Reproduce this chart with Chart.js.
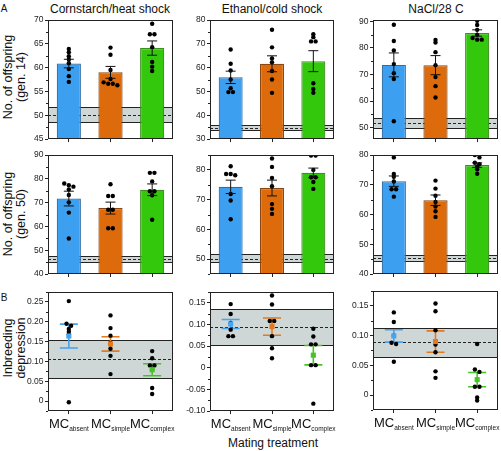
<!DOCTYPE html>
<html>
<head>
<meta charset="utf-8">
<script src="https://cdn.jsdelivr.net/npm/chart.js@4"></script>
<style>
  body { margin: 0; width: 501px; height: 451px; position: relative; overflow: hidden; background: #fff;
         font-family: "Liberation Sans", Arial, sans-serif; color: #111; }
  canvas { position: absolute; }
  .c { position: absolute; transform: translate(-50%, -50%); white-space: nowrap; }
  .yt { position: absolute; transform: translate(-50%, -50%) rotate(-90deg); white-space: nowrap;
        text-align: center; font-size: 12.5px; line-height: 12.5px; }
</style>
</head>
<body>
<div class="c" style="left:4px;top:7.5px;font-size:10px">A</div>
<div class="c" style="left:4px;top:297px;font-size:10px">B</div>
<div class="c" style="left:110px;top:8.5px;font-size:12px">Cornstarch/heat shock</div>
<div class="c" style="left:272px;top:8.5px;font-size:12px">Ethanol/cold shock</div>
<div class="c" style="left:436px;top:8.5px;font-size:12px">NaCl/28 C</div>
<div class="yt" style="left:14px;top:77px">No. of offspring<br>(gen. 14)</div>
<div class="yt" style="left:14px;top:214px">No. of offspring<br>(gen. 50)</div>
<div class="yt" style="left:14px;top:348px">Inbreeding<br>depression</div>
<div class="c" style="left:273px;top:443px;font-size:12px">Mating treatment</div>
<script>
// Mating treatments (x categories)
const groups = ['absent', 'simple', 'complex'];
const fills = ['#3c9ff0', '#dd6b0c', '#34c80c'];
const edges = ['#2e6ea6', '#8c4610', '#3e8e22'];
const errColors = ['#46a3ee', '#e07b22', '#46c427'];

// Cornstarch/heat shock, gen. 14
const h14Absent = [63.9, 63.2, 62.4, 61.7, 60.9, 59.7, 58.2, 57.0];
const h14Simple = [64.2, 62.7, 59.5, 57.6, 56.9, 56.6, 56.6, 56.3];
const h14Complex = [69.2, 67.0, 67.0, 64.3, 61.2, 60.2, 59.3];
const h14Mean = [60.85, 59.0, 64.1];
const h14Se = [0.9, 1.25, 1.5];
const h14Ctrl = [48.5, 50.1, 51.7];

// Ethanol/cold shock, gen. 14
const e14Absent = [67.6, 61.6, 58.8, 55.0, 51.3, 49.7, 49.7];
const e14Simple = [75.9, 68.5, 63.8, 62.2, 58.6, 55.0, 49.4];
const e14Complex = [74.0, 72.8, 71.0, 71.0, 53.4, 51.0, 49.4];
const e14Mean = [55.9, 61.6, 62.7];
const e14Se = [2.6, 3.35, 4.4];
const e14Ctrl = [33.6, 34.8, 36.0];

// NaCl/28 C, gen. 14
const n14Absent = [88.7, 82.6, 79.0, 73.9, 70.5, 68.3, 52.4];
const n14Simple = [83.0, 82.0, 78.4, 73.5, 69.0, 65.6, 61.3];
const n14Complex = [90.2, 88.6, 86.8, 84.9, 83.7, 83.1, 83.1];
const n14Mean = [73.6, 73.5, 85.6];
const n14Se = [4.5, 3.6, 1.2];
const n14Ctrl = [50.0, 51.8, 53.5];

// Cornstarch/heat shock, gen. 50
const h50Absent = [78.0, 77.3, 76.7, 75.5, 73.2, 70.1, 65.8, 54.9];
const h50Simple = [77.7, 72.8, 72.8, 67.0, 67.0, 59.2, 59.2];
const h50Complex = [82.5, 82.5, 78.9, 74.8, 74.8, 73.1, 62.8];
const h50Mean = [71.7, 67.7, 75.4];
const h50Se = [3.1, 2.5, 2.45];
const h50Ctrl = [45.2, 46.4, 47.5];

// Ethanol/cold shock, gen. 50
const e50Absent = [81.2, 78.6, 78.6, 78.2, 71.9, 69.7, 63.4];
const e50Simple = [83.8, 81.0, 77.3, 74.5, 68.5, 66.9, 65.2];
const e50Complex = [84.8, 84.8, 80.0, 77.5, 77.5, 75.9, 73.6];
const e50Mean = [74.3, 73.9, 79.0];
const e50Se = [2.25, 2.65, 1.6];
const e50Ctrl = [48.9, 50.0, 51.6];

// NaCl/28 C, gen. 50
const n50Absent = [79.2, 73.6, 72.7, 71.1, 68.5, 68.5, 66.0];
const n50Simple = [71.4, 68.7, 66.3, 64.2, 62.7, 61.1, 59.2];
const n50Complex = [80.0, 79.2, 77.4, 76.9, 76.1, 75.2, 73.7];
const n50Mean = [71.2, 64.8, 76.6];
const n50Se = [1.75, 1.75, 0.75];
const n50Ctrl = [44.4, 45.4, 46.3];

// Inbreeding depression
const hIdAbsent = [0.252, 0.195, 0.190, 0.182, 0.175, 0.168, -0.003];
const hIdSimple = [0.216, 0.184, 0.165, 0.146, 0.132, 0.114, 0.068];
const hIdComplex = [0.126, 0.108, 0.090, 0.090, 0.080, 0.033, 0.018];
const hIdMean = [0.164, 0.144, 0.079];
const hIdSe = [0.030, 0.018, 0.015];
const hIdCtrl = [0.057, 0.105, 0.153];

const eIdAbsent = [0.147, 0.124, 0.103, 0.088, 0.073, 0.073];
const eIdSimple = [0.167, 0.146, 0.108, 0.108, 0.073, 0.045, 0.022];
const eIdComplex = [0.090, 0.072, 0.054, 0.054, 0.006, 0.006, -0.083];
const eIdMean = [0.101, 0.095, 0.029];
const eIdSe = [0.0105, 0.020, 0.0225];
const eIdCtrl = [0.053, 0.094, 0.135];

const nIdAbsent = [0.139, 0.123, 0.100, 0.088, 0.086, 0.056];
const nIdSimple = [0.154, 0.141, 0.109, 0.085, 0.072, 0.040, 0.029];
const nIdComplex = [0.086, 0.043, 0.039, 0.014, 0.014, -0.004, -0.009];
const nIdMean = [0.0995, 0.090, 0.026];
const nIdSe = [0.0105, 0.018, 0.012];
const nIdCtrl = [0.064, 0.089, 0.112];

// Panel layout: plot rectangle [x0, y0, x1, y1], y axis [min, max, major, minor]
const panels = [
  {rect: [48, 20, 173, 139], y: [45, 70, 5, 2.5], dots: [h14Absent, h14Simple, h14Complex], mean: h14Mean, se: h14Se, ctrl: h14Ctrl},
  {rect: [210, 20, 334, 139], y: [30, 80, 10, 5], dots: [e14Absent, e14Simple, e14Complex], mean: e14Mean, se: e14Se, ctrl: e14Ctrl},
  {rect: [373, 20, 498, 139], y: [45.7, 90.5, 10, 5], dots: [n14Absent, n14Simple, n14Complex], mean: n14Mean, se: n14Se, ctrl: n14Ctrl},
  {rect: [48, 155, 173, 274], y: [40, 90, 10, 5], dots: [h50Absent, h50Simple, h50Complex], mean: h50Mean, se: h50Se, ctrl: h50Ctrl},
  {rect: [210, 155, 334, 274], y: [45, 85, 10, 5], dots: [e50Absent, e50Simple, e50Complex], mean: e50Mean, se: e50Se, ctrl: e50Ctrl},
  {rect: [373, 155, 498, 274], y: [40, 80, 10, 5], dots: [n50Absent, n50Simple, n50Complex], mean: n50Mean, se: n50Se, ctrl: n50Ctrl},
  {rect: [48, 292, 173, 411], y: [-0.025, 0.275, 0.05, 0.025], dots: [hIdAbsent, hIdSimple, hIdComplex], mean: hIdMean, se: hIdSe, ctrl: hIdCtrl, id: true},
  {rect: [210, 292, 334, 411], y: [-0.1, 0.175, 0.05, 0.025], dots: [eIdAbsent, eIdSimple, eIdComplex], mean: eIdMean, se: eIdSe, ctrl: eIdCtrl, id: true},
  {rect: [373, 291, 498, 410], y: [-0.025, 0.175, 0.05, 0.025], dots: [nIdAbsent, nIdSimple, nIdComplex], mean: nIdMean, se: nIdSe, ctrl: nIdCtrl, id: true},
];

const FONT = '"Liberation Sans", Arial, sans-serif';

// place tied dots side by side around the category centre
function swarm(vals, idx, thr) {
  const sorted = [...vals].sort((a, b) => b - a);
  const out = [];
  let cluster = [];
  const flush = () => {
    cluster.forEach((v, k) => out.push({x: idx + (k - (cluster.length - 1) / 2) * 0.11, y: v}));
    cluster = [];
  };
  sorted.forEach(v => {
    if (cluster.length && Math.abs(cluster[cluster.length - 1] - v) > thr) flush();
    cluster.push(v);
  });
  flush();
  return out;
}

function stepValues(min, max, step) {
  const vals = [];
  for (let k = Math.ceil(min / step - 1e-9); k * step <= max + 1e-9; k++) {
    vals.push(Math.round(k * step * 10000) / 10000);
  }
  return vals;
}

function fmt(v, dec) {
  if (Math.abs(v) < 1e-9) return '0';
  return dec ? v.toFixed(2) : String(Math.round(v));
}

function drawErrors(chart, p) {
  const {ctx, scales: {x, y}} = chart;
  ctx.save();
  p.mean.forEach((m, i) => {
    const cx = x.getPixelForValue(i);
    const top = y.getPixelForValue(m + p.se[i]);
    const bot = y.getPixelForValue(m - p.se[i]);
    const cap = p.id ? 9 : 5;
    ctx.strokeStyle = p.id ? errColors[i] : '#111';
    ctx.lineWidth = p.id ? 1.6 : 1;
    ctx.beginPath();
    ctx.moveTo(cx, top); ctx.lineTo(cx, bot);
    ctx.moveTo(cx - cap, top); ctx.lineTo(cx + cap, top);
    ctx.moveTo(cx - cap, bot); ctx.lineTo(cx + cap, bot);
    ctx.stroke();
  });
  ctx.restore();
}

function panelPlugin(p) {
  return {
    id: 'panel',
    beforeDatasetsDraw(chart) {
      const {ctx, chartArea: a, scales: {y}} = chart;
      const [lo, mid, hi] = p.ctrl;
      const yl = Math.round(y.getPixelForValue(lo)) + 0.5;
      const ym = Math.round(y.getPixelForValue(mid)) + 0.5;
      const yh = Math.round(y.getPixelForValue(hi)) + 0.5;
      ctx.save();
      ctx.beginPath();
      ctx.rect(a.left, a.top, a.width, a.height);
      ctx.clip();
      ctx.fillStyle = '#cfd6d6';
      ctx.fillRect(a.left, yh, a.width, yl - yh);
      ctx.strokeStyle = '#222';
      ctx.lineWidth = 1;
      ctx.beginPath();
      ctx.moveTo(a.left, yl); ctx.lineTo(a.right, yl);
      ctx.moveTo(a.left, yh); ctx.lineTo(a.right, yh);
      ctx.stroke();
      ctx.setLineDash([3, 2]);
      ctx.beginPath();
      ctx.moveTo(a.left, ym); ctx.lineTo(a.right, ym);
      ctx.stroke();
      ctx.restore();
      if (p.id) drawErrors(chart, p);
    },
    afterDatasetsDraw(chart) {
      if (!p.id) drawErrors(chart, p);
    },
    afterDraw(chart) {
      const {ctx, chartArea: a, scales: {x, y}} = chart;
      const [ymin, ymax, major, minor] = p.y;
      ctx.save();
      ctx.strokeStyle = '#222';
      ctx.lineWidth = 1;
      ctx.strokeRect(a.left + 0.5, a.top + 0.5, a.width - 1, a.height - 1);
      // minor ticks
      ctx.beginPath();
      stepValues(ymin, ymax, minor).forEach(v => {
        if (Math.abs(v / major - Math.round(v / major)) < 1e-6) return;
        const py = Math.round(y.getPixelForValue(v)) + 0.5;
        ctx.moveTo(a.left - 2, py); ctx.lineTo(a.left, py);
      });
      ctx.stroke();
      // MC labels with subscripts
      if (p.id) {
        ctx.fillStyle = '#111';
        ctx.textBaseline = 'alphabetic';
        groups.forEach((g, i) => {
          const cx = x.getPixelForValue(i);
          ctx.font = '13px ' + FONT;
          const w1 = ctx.measureText('MC').width;
          ctx.font = '6.5px ' + FONT;
          const w2 = ctx.measureText(g).width;
          const sx = cx - (w1 + w2) / 2;
          ctx.font = '13px ' + FONT;
          ctx.fillText('MC', sx, a.bottom + 17);
          ctx.font = '6.5px ' + FONT;
          ctx.fillText(g, sx + w1, a.bottom + 19.5);
        });
      }
      ctx.restore();
    }
  };
}

function makeChart(p) {
  const [x0, y0, x1, y1] = p.rect;
  const w = x1 - x0, h = y1 - y0;
  const padB = p.id ? 28 : 0;
  const canvas = document.createElement('canvas');
  canvas.width = w + 36;
  canvas.height = h + 18 + padB;
  canvas.style.left = (x0 - 32) + 'px';
  canvas.style.top = (y0 - 8) + 'px';
  canvas.style.width = canvas.width + 'px';
  canvas.style.height = canvas.height + 'px';
  document.body.appendChild(canvas);

  const [ymin, ymax, major] = p.y;
  const thr = (ymax - ymin) * 0.02;
  const datasets = [{
    type: 'scatter',
    data: p.dots.flatMap((vals, i) => swarm(vals, i, thr)),
    pointRadius: 2.2,
    pointBackgroundColor: '#000',
    pointBorderWidth: 0,
    order: 1
  }];
  if (p.id) {
    datasets.push({
      type: 'scatter',
      data: p.mean.map((m, i) => ({x: i, y: m})),
      pointStyle: 'rect',
      pointRadius: 3.6,
      pointBackgroundColor: errColors,
      pointBorderWidth: 0,
      order: 0
    });
  } else {
    datasets.push({
      type: 'bar',
      data: p.mean.map((m, i) => ({x: i, y: m})),
      backgroundColor: fills,
      borderColor: edges,
      borderWidth: 1.2,
      barPercentage: 0.58,
      categoryPercentage: 1,
      order: 2
    });
  }

  new Chart(canvas, {
    type: 'scatter',
    data: {datasets},
    options: {
      responsive: false,
      animation: false,
      events: [],
      layout: {padding: {top: 8, right: 4, bottom: padB, left: 0}},
      plugins: {legend: {display: false}, tooltip: {enabled: false}},
      scales: {
        x: {
          type: 'linear', min: -0.5, max: 2.5, offset: false,
          grid: {offset: false, drawOnChartArea: false, tickLength: 3, color: '#222'},
          border: {display: false},
          ticks: {callback: () => '', font: {size: 1}},
          afterBuildTicks: s => { s.ticks = [0, 1, 2].map(v => ({value: v})); },
          afterFit: s => { s.height = 10; }
        },
        y: {
          type: 'linear', min: ymin, max: ymax,
          grid: {drawOnChartArea: false, tickLength: 3, color: '#222'},
          border: {display: false},
          ticks: {
            padding: 1.5, color: '#222',
            font: {family: FONT, size: 8.5},
            callback: v => fmt(v, p.id)
          },
          afterBuildTicks: s => { s.ticks = stepValues(ymin, ymax, major).map(v => ({value: v})); },
          afterFit: s => { s.width = 32; }
        }
      }
    },
    plugins: [panelPlugin(p)]
  });
}

panels.forEach(makeChart);
</script>
</body>
</html>
